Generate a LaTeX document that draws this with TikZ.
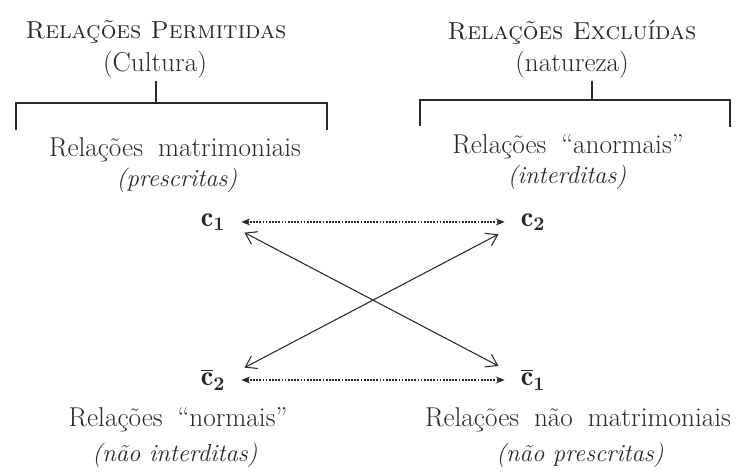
\documentclass[tikz,border=0pt]{standalone}
\usepackage{fontspec}
\usepackage{tikz}
\usetikzlibrary{arrows.meta}
\definecolor{figink}{RGB}{40,40,40}
\newcommand\subfnt{\fontsize{15.5}{18}\selectfont\addfontfeatures{LetterSpace=3}\spaceskip 0.55em\relax}
\tikzset{
  ttl/.style   ={font=\fontsize{14}{16}\selectfont\scshape, text=figink, inner sep=1pt},
  sub/.style   ={font=\subfnt, text=figink, inner sep=1pt},
  itl/.style   ={font=\fontsize{14}{16}\selectfont\itshape, text=figink, inner sep=1pt},
  cls/.style   ={font=\fontsize{16}{18}\selectfont\boldmath, text=figink, inner xsep=9pt, inner ysep=0pt},
  brk/.style   ={draw=figink, line width=0.8pt},
  dotarr/.style={draw=figink, line width=0.8pt, dash pattern=on 1pt off 0.8pt,
                 {Stealth[length=5pt,width=4pt]}-{Stealth[length=5pt,width=4pt]}},
  crsarr/.style={draw=figink, line width=0.6pt, shorten <=2pt, shorten >=4pt,
                 {Straight Barb[length=6pt,width=8pt]}-{Straight Barb[length=6pt,width=8pt]}},
}

\begin{document}
\begin{tikzpicture}[x=0.02cm,y=-0.02cm]
  \useasboundingbox (0,0) rectangle (751,475);
  % upper titles
  \node[ttl] (permit) at (156,32) {Relações Permitidas};
  \node[sub] (cultura) at (155,65) {(Cultura)};
  \node[ttl] (exclu) at (572,32) {Relações Excluídas};
  \node[sub] (natur) at (572,65) {(natureza)};
  % brackets
  \draw[brk] (cultura.south -| 156,103) -- (156,103);
  \draw[brk] (16,130) |- (327,103) -- (327,130);
  \draw[brk] (natur.south -| 592,100) -- (592,100);
  \draw[brk] (420,126) |- (730,100) -- (730,127);
  \node[sub] (matri) at (175,150) {Relações matrimoniais};
  \node[itl] (prescr) at (177,180) {(prescritas)};
  \node[sub] (anorm) at (568,147) {Relações ``anormais''};
  \node[itl] (interd) at (567,177) {(interditas)};
  % the four classes
  \node[cls] (c1) at (213,222) {$\mathrm{c}_1$};
  \node[cls] (c2) at (533,222) {$\mathrm{c}_2$};
  \node[cls] (c2b) at (213,380) {$\overline{\mathrm{c}}_2$};
  \node[cls] (c1b) at (533,380) {$\overline{\mathrm{c}}_1$};
  \draw[dotarr] (c1) -- (c2);
  \draw[dotarr] (c2b) -- (c1b);
  \draw[crsarr] (c1.south east) -- (c1b.north west);
  \draw[crsarr] (c2b.north east) -- (c2.south west);
  % lower titles
  \node[sub] (normais) at (178,420) {Relações ``normais''};
  \node[itl] (naoint) at (175,455) {(não interditas)};
  \node[sub] (naomat) at (578,420) {Relações não matrimoniais};
  \node[itl] (naopres) at (580,455) {(não prescritas)};
\end{tikzpicture}
\end{document}
